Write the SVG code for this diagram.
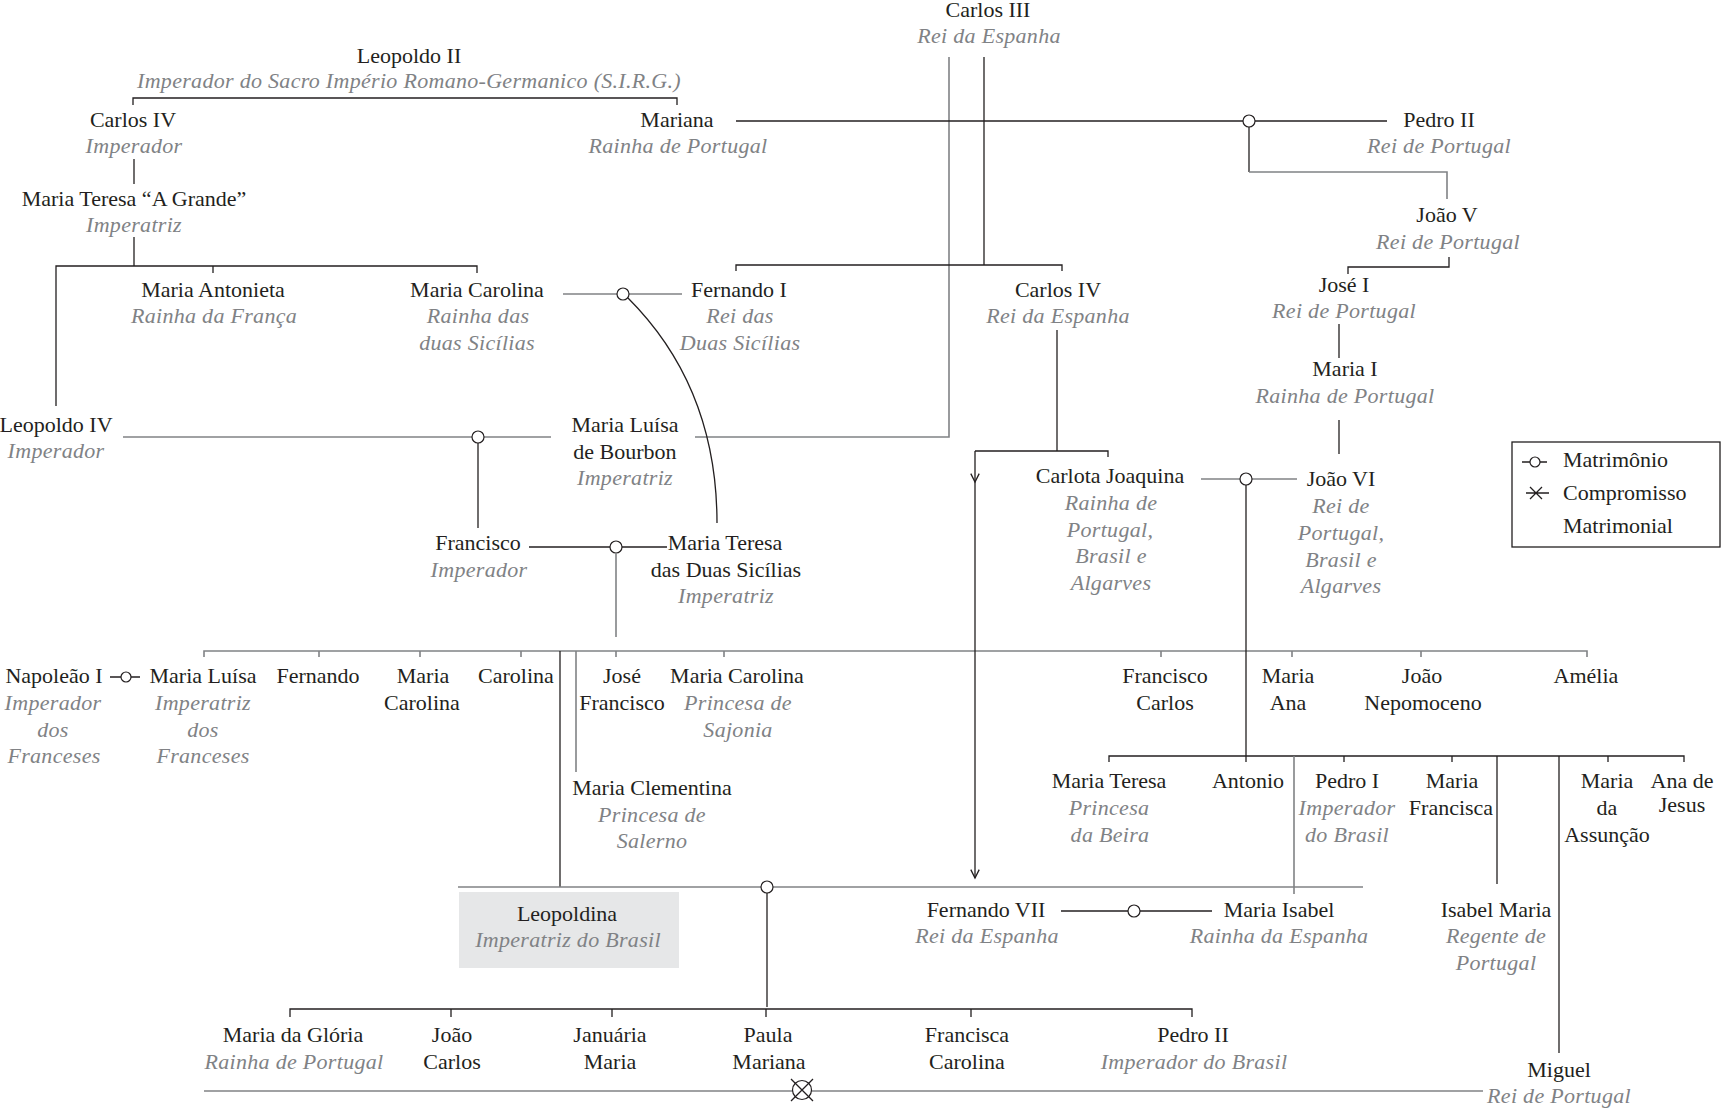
<svg xmlns="http://www.w3.org/2000/svg" width="1721" height="1110" viewBox="0 0 1721 1110">
<defs>
<style>
text { font-family: "Liberation Serif", "Times New Roman", serif; font-size: 22px; fill: #231f20; text-anchor: middle; }
text.r { font-style: italic; fill: #808285; letter-spacing: 0.3px; }
text.lg { text-anchor: start; }
.l { stroke: #231f20; stroke-width: 1.3; fill: none; }
.g { stroke: #808285; stroke-width: 1.6; fill: none; }
.m { fill: #ffffff; stroke: #231f20; stroke-width: 1.2; }
</style>
<marker id="chev" markerUnits="userSpaceOnUse" markerWidth="12" markerHeight="12" viewBox="-8 -5 10 10" refX="0" refY="0" orient="auto">
<path d="M-7,-3.5 L0,0 L-7,3.5" fill="none" stroke="#231f20" stroke-width="1.1"/>
</marker>
</defs>
<rect width="1721" height="1110" fill="#ffffff"/>

<g id="connectors">
<path class="l" d="M133,105 V98 H677 V105"/>
<path class="l" d="M134,159 V184"/>
<path class="l" d="M134,237 V266"/>
<path class="l" d="M56,406 V266 H477 V273"/>
<path class="l" d="M213,266 V273"/>
<path class="g" d="M949,57 V437 H695"/>
<path class="l" d="M984,57 V265"/>
<path class="l" d="M736,271 V265 H1062 V271"/>
<path class="l" d="M736,121 H1243"/>
<path class="l" d="M1255,121 H1387"/>
<circle class="m" cx="1249" cy="121" r="6"/>
<path class="l" d="M1249,127 V172"/>
<path class="g" d="M1249,172 H1447 V199"/>
<path class="l" d="M1449,257 V267 H1348 V274"/>
<path class="l" d="M1339,324 V358"/>
<path class="l" d="M1339,420 V454"/>
<path class="g" d="M563,294 H617"/>
<path class="g" d="M629,294 H682"/>
<circle class="m" cx="623" cy="294" r="6"/>
<path class="l" d="M628,298 Q717,387 717,523"/>
<path class="g" d="M123,437 H472"/>
<path class="g" d="M484,437 H551"/>
<circle class="m" cx="478" cy="437" r="6"/>
<path class="l" d="M478,443 V528"/>
<path class="l" d="M529,547 H610"/>
<path class="l" d="M622,547 H667"/>
<circle class="m" cx="616" cy="547" r="6"/>
<path class="g" d="M616,553 V637"/>
<path class="g" d="M204,657 V651 H1587 V657"/>
<path class="g" d="M319,651 V657 M420,651 V657 M521,651 V657 M616,651 V657 M724,651 V657 M1161,651 V657 M1292,651 V657 M1421,651 V657"/>
<path class="l" d="M560,651 V887"/>
<path class="g" d="M576,651 V772"/>
<path class="l" d="M1057,330 V451"/>
<path class="l" d="M975,451 H1108 V457"/>
<path class="l" d="M975,451 V482" marker-end="url(#chev)"/>
<path class="l" d="M975,482 V878" marker-end="url(#chev)"/>
<path class="g" d="M1201,479 H1240"/>
<path class="g" d="M1252,479 H1297"/>
<circle class="m" cx="1246" cy="479" r="6"/>
<path class="l" d="M1246,485 V762"/>
<path class="l" d="M1109,762 V756 H1684 V762"/>
<path class="l" d="M1344,756 V762 M1452,756 V762 M1608,756 V762"/>
<path class="g" d="M1294,756 V894"/>
<path class="l" d="M1497,756 V884"/>
<path class="l" d="M1559,756 V1053"/>
<path class="g" d="M458,887 H761"/>
<path class="g" d="M773,887 H1363"/>
<circle class="m" cx="767" cy="887" r="6"/>
<path class="l" d="M767,893 V1007"/>
<path class="l" d="M290,1017 V1009 H1192 V1017"/>
<path class="l" d="M451,1009 V1017 M612,1009 V1017 M766,1009 V1017 M971,1009 V1017"/>
<path class="l" d="M1061,911 H1128"/>
<path class="l" d="M1140,911 H1212"/>
<circle class="m" cx="1134" cy="911" r="6"/>
<path class="g" d="M204,1091 H1483"/>
<circle class="m" cx="802" cy="1090" r="9.5"/>
<path class="l" d="M791,1079 L813,1101 M813,1079 L791,1101"/>
<path class="l" d="M110,677 H121 M131,677 H140"/>
<circle class="m" cx="126" cy="677" r="5"/>
</g>

<g id="leopoldo-ii"><text x="409" y="63">Leopoldo II</text><text class="r" x="409" y="88">Imperador do Sacro Império Romano-Germanico (S.I.R.G.)</text></g>
<g id="carlos-iv-imp"><text x="133" y="127">Carlos IV</text><text class="r" x="134" y="153">Imperador</text></g>
<g id="maria-teresa-grande"><text x="134" y="206">Maria Teresa “A Grande”</text><text class="r" x="134" y="232">Imperatriz</text></g>
<g id="carlos-iii"><text x="988" y="17">Carlos III</text><text class="r" x="989" y="43">Rei da Espanha</text></g>
<g id="mariana"><text x="677" y="127">Mariana</text><text class="r" x="678" y="153">Rainha de Portugal</text></g>
<g id="pedro-ii-pt"><text x="1439" y="127">Pedro II</text><text class="r" x="1439" y="153">Rei de Portugal</text></g>
<g id="joao-v"><text x="1447" y="222">João V</text><text class="r" x="1448" y="249">Rei de Portugal</text></g>
<g id="jose-i"><text x="1344" y="292">José I</text><text class="r" x="1344" y="318">Rei de Portugal</text></g>
<g id="maria-i"><text x="1345" y="376">Maria I</text><text class="r" x="1345" y="403">Rainha de Portugal</text></g>
<g id="maria-antonieta"><text x="213" y="297">Maria Antonieta</text><text class="r" x="214" y="323">Rainha da França</text></g>
<g id="maria-carolina-sicilias"><text x="477" y="297">Maria Carolina</text><text class="r" x="478" y="323">Rainha das</text><text class="r" x="477" y="350">duas Sicílias</text></g>
<g id="fernando-i"><text x="739" y="297">Fernando I</text><text class="r" x="740" y="323">Rei das</text><text class="r" x="740" y="350">Duas Sicílias</text></g>
<g id="carlos-iv-esp"><text x="1058" y="297">Carlos IV</text><text class="r" x="1058" y="323">Rei da Espanha</text></g>
<g id="leopoldo-iv"><text x="56" y="432">Leopoldo IV</text><text class="r" x="56" y="458">Imperador</text></g>
<g id="maria-luisa-bourbon"><text x="625" y="432">Maria Luísa</text><text x="625" y="459">de Bourbon</text><text class="r" x="625" y="485">Imperatriz</text></g>
<g id="carlota-joaquina"><text x="1110" y="483">Carlota Joaquina</text><text class="r" x="1111" y="510">Rainha de</text><text class="r" x="1110" y="537">Portugal,</text><text class="r" x="1111" y="563">Brasil e</text><text class="r" x="1111" y="590">Algarves</text></g>
<g id="joao-vi"><text x="1341" y="486">João VI</text><text class="r" x="1341" y="513">Rei de</text><text class="r" x="1341" y="540">Portugal,</text><text class="r" x="1341" y="567">Brasil e</text><text class="r" x="1341" y="593">Algarves</text></g>
<g id="francisco"><text x="478" y="550">Francisco</text><text class="r" x="479" y="577">Imperador</text></g>
<g id="maria-teresa-sicilias"><text x="725" y="550">Maria Teresa</text><text x="726" y="577">das Duas Sicílias</text><text class="r" x="726" y="603">Imperatriz</text></g>
<g id="napoleao"><text x="54" y="683">Napoleão I</text><text class="r" x="53" y="710">Imperador</text><text class="r" x="53" y="737">dos</text><text class="r" x="54" y="763">Franceses</text></g>
<g id="maria-luisa"><text x="203" y="683">Maria Luísa</text><text class="r" x="203" y="710">Imperatriz</text><text class="r" x="203" y="737">dos</text><text class="r" x="203" y="763">Franceses</text></g>
<g id="fernando"><text x="318" y="683">Fernando</text></g>
<g id="maria-carolina"><text x="423" y="683">Maria</text><text x="422" y="710">Carolina</text></g>
<g id="carolina"><text x="516" y="683">Carolina</text></g>
<g id="jose-francisco"><text x="622" y="683">José</text><text x="622" y="710">Francisco</text></g>
<g id="maria-carolina-sajonia"><text x="737" y="683">Maria Carolina</text><text class="r" x="738" y="710">Princesa de</text><text class="r" x="738" y="737">Sajonia</text></g>
<g id="maria-clementina"><text x="652" y="795">Maria Clementina</text><text class="r" x="652" y="822">Princesa de</text><text class="r" x="652" y="848">Salerno</text></g>
<g id="francisco-carlos"><text x="1165" y="683">Francisco</text><text x="1165" y="710">Carlos</text></g>
<g id="maria-ana"><text x="1288" y="683">Maria</text><text x="1288" y="710">Ana</text></g>
<g id="joao-nepomoceno"><text x="1422" y="683">João</text><text x="1423" y="710">Nepomoceno</text></g>
<g id="amelia"><text x="1586" y="683">Amélia</text></g>
<g id="maria-teresa-beira"><text x="1109" y="788">Maria Teresa</text><text class="r" x="1109" y="815">Princesa</text><text class="r" x="1110" y="842">da Beira</text></g>
<g id="antonio"><text x="1248" y="788">Antonio</text></g>
<g id="pedro-i"><text x="1347" y="788">Pedro I</text><text class="r" x="1347" y="815">Imperador</text><text class="r" x="1347" y="842">do Brasil</text></g>
<g id="maria-francisca"><text x="1452" y="788">Maria</text><text x="1451" y="815">Francisca</text></g>
<g id="maria-assuncao"><text x="1607" y="788">Maria</text><text x="1607" y="815">da</text><text x="1607" y="842">Assunção</text></g>
<g id="ana-jesus"><text x="1682" y="788">Ana de</text><text x="1682" y="812">Jesus</text></g>
<g id="leopoldina"><rect x="459" y="892" width="220" height="76" fill="#e6e7e8"/><text x="567" y="921">Leopoldina</text><text class="r" x="568" y="947">Imperatriz do Brasil</text></g>
<g id="fernando-vii"><text x="986" y="917">Fernando VII</text><text class="r" x="987" y="943">Rei da Espanha</text></g>
<g id="maria-isabel"><text x="1279" y="917">Maria Isabel</text><text class="r" x="1279" y="943">Rainha da Espanha</text></g>
<g id="isabel-maria"><text x="1496" y="917">Isabel Maria</text><text class="r" x="1496" y="943">Regente de</text><text class="r" x="1496" y="970">Portugal</text></g>
<g id="maria-gloria"><text x="293" y="1042">Maria da Glória</text><text class="r" x="294" y="1069">Rainha de Portugal</text></g>
<g id="joao-carlos"><text x="452" y="1042">João</text><text x="452" y="1069">Carlos</text></g>
<g id="januaria-maria"><text x="610" y="1042">Januária</text><text x="610" y="1069">Maria</text></g>
<g id="paula-mariana"><text x="768" y="1042">Paula</text><text x="769" y="1069">Mariana</text></g>
<g id="francisca-carolina"><text x="967" y="1042">Francisca</text><text x="967" y="1069">Carolina</text></g>
<g id="pedro-ii-br"><text x="1193" y="1042">Pedro II</text><text class="r" x="1194" y="1069">Imperador do Brasil</text></g>
<g id="miguel"><text x="1559" y="1077">Miguel</text><text class="r" x="1559" y="1103">Rei de Portugal</text></g>

<g id="legend">
<rect x="1512" y="442" width="208" height="105" fill="none" stroke="#231f20" stroke-width="1.3"/>
<path class="l" d="M1522,462 H1530 M1540,462 H1547"/>
<circle class="m" cx="1535" cy="462" r="5"/>
<path class="l" d="M1526,493 H1549 M1530,487 L1542,499 M1542,487 L1530,499"/>
<text class="lg" x="1563" y="467">Matrimônio</text>
<text class="lg" x="1563" y="500">Compromisso</text>
<text class="lg" x="1563" y="533">Matrimonial</text>
</g>
</svg>
